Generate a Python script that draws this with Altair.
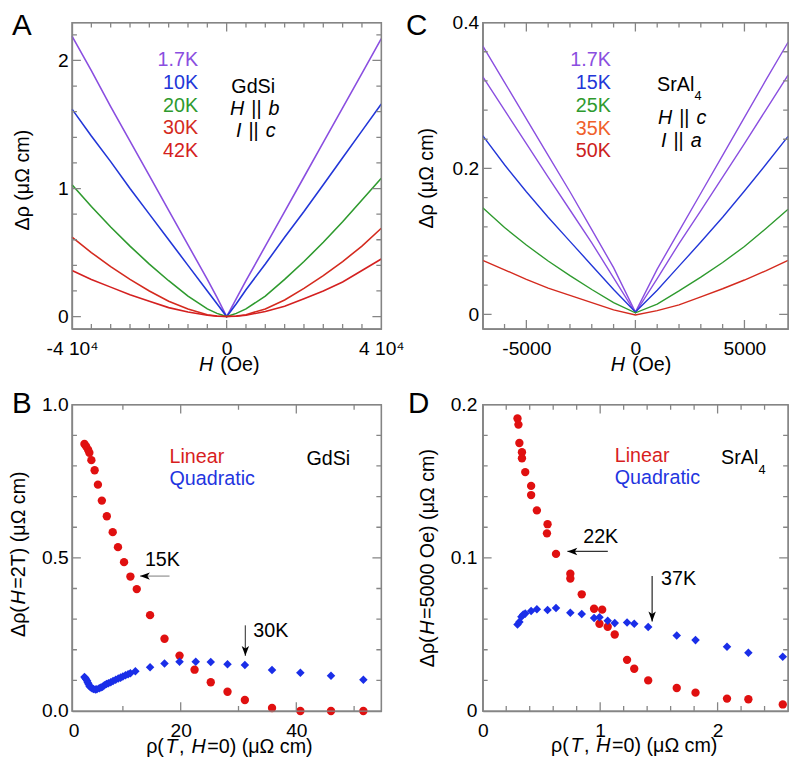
import altair as alt
import pandas as pd

FONT = "Liberation Sans"
FRAME = "#858585"
LAB = 19.5
TIT = 20

# ---------------- data ----------------
# Panel A : GdSi, H || b, I || c
A_H = [-40000, -35000, -30000, -25000, -20000, -15000, -10000, -5000, -2500, 0,
       2500, 5000, 10000, 15000, 20000, 25000, 30000, 35000, 40000]
A_T = ["1.7K", "10K", "20K", "30K", "42K"]
A_COL = ["#8a4ee0", "#2236d8", "#2e9a2e", "#d42a1e", "#d42020"]
A_1p7 = [2.19, 1.92, 1.64, 1.37, 1.10, 0.83, 0.56, 0.29, 0.15, 0.0, 0.14, 0.28, 0.55, 0.82, 1.09, 1.36, 1.63, 1.90, 2.17]
A_10 = [1.62, 1.41, 1.21, 1.00, 0.80, 0.60, 0.40, 0.20, 0.10, 0.0, 0.10, 0.21, 0.41, 0.62, 0.82, 1.03, 1.24, 1.45, 1.66]
A_20 = [1.03, 0.86, 0.70, 0.55, 0.41, 0.28, 0.16, 0.06, 0.025, 0.0, 0.025, 0.06, 0.16, 0.29, 0.43, 0.58, 0.74, 0.91, 1.08]
A_30 = [0.62, 0.50, 0.39, 0.29, 0.20, 0.12, 0.06, 0.015, 0.004, 0.0, 0.004, 0.015, 0.06, 0.13, 0.22, 0.32, 0.43, 0.55, 0.69]
A_42 = [0.36, 0.29, 0.23, 0.17, 0.12, 0.07, 0.035, 0.01, 0.003, 0.0, 0.003, 0.01, 0.04, 0.08, 0.14, 0.20, 0.27, 0.36, 0.45]

# Panel C : SrAl4, H || c, I || a
C_H = [-7000, -6000, -5000, -4000, -3000, -2000, -1000, 0, 1000, 2000, 3000, 4000, 5000, 6000, 7000]
C_T = ["1.7K", "15K", "25K", "35K", "50K"]
C_COL = ["#8a4ee0", "#2236d8", "#2e9a2e", "#f0602a", "#cc2020"]
C_1p7 = [0.368, 0.318, 0.268, 0.218, 0.168, 0.116, 0.064, 0.003, 0.062, 0.114, 0.166, 0.218, 0.270, 0.322, 0.373]
C_15 = [0.326, 0.280, 0.234, 0.188, 0.143, 0.098, 0.050, 0.002, 0.049, 0.097, 0.142, 0.188, 0.234, 0.281, 0.328]
C_25 = [0.245, 0.205, 0.168, 0.133, 0.100, 0.067, 0.034, 0.003, 0.033, 0.066, 0.099, 0.133, 0.169, 0.206, 0.244]
C_35 = [0.146, 0.119, 0.095, 0.073, 0.053, 0.034, 0.016, 0.002, 0.014, 0.032, 0.051, 0.071, 0.093, 0.118, 0.144]
C_50 = [0.074, 0.061, 0.048, 0.036, 0.026, 0.016, 0.006, -0.001, 0.005, 0.013, 0.024, 0.035, 0.047, 0.060, 0.074]

# Panel B : GdSi, linear / quadratic coefficients vs rho(T, H=0)
B_LIN_X = [3.35, 3.64, 3.98, 4.2, 4.55, 5.11, 5.68, 6.36, 7.22, 8.24, 9.15, 10.2, 11.3, 12.4,
           14.7, 17.2, 19.8, 22.4, 25.2, 28.1, 31.1, 35.8, 40.7, 46.0, 51.6]
B_LIN_Y = [0.872, 0.864, 0.853, 0.843, 0.819, 0.786, 0.739, 0.687, 0.636, 0.584, 0.535, 0.486, 0.439, 0.398,
           0.313, 0.236, 0.181, 0.135, 0.094, 0.063, 0.036, 0.010, 0.0, 0.0, 0.0]
B_QUAD_X = [3.35, 3.5, 3.64, 3.8, 3.92, 4.05, 4.2, 4.4, 4.66, 4.9, 5.23, 5.5, 5.91, 6.2, 6.48, 6.8, 7.16,
            7.5, 7.9, 8.3, 8.75, 9.2, 9.6, 10.0, 10.45, 10.9, 11.3, 12.16, 14.7, 17.2, 19.8, 22.6, 25.2,
            28.1, 31.1, 35.8, 40.7, 46.0, 51.6]
B_QUAD_Y = [0.111, 0.108, 0.104, 0.099, 0.093, 0.088, 0.082, 0.078, 0.074, 0.072, 0.070, 0.071, 0.074,
            0.077, 0.079, 0.084, 0.088, 0.091, 0.094, 0.098, 0.102, 0.106, 0.109, 0.113, 0.117, 0.120,
            0.123, 0.130, 0.143, 0.155, 0.161, 0.161, 0.160, 0.153, 0.150, 0.134, 0.125, 0.115, 0.102]

# Panel D : SrAl4
D_LIN_X = [0.296, 0.304, 0.312, 0.334, 0.334, 0.362, 0.412, 0.412, 0.461, 0.552, 0.547, 0.624, 0.746,
           0.746, 0.843, 0.948, 1.017, 0.994, 1.064, 1.124, 1.229, 1.290, 1.409, 1.652, 1.812, 2.080,
           2.262, 2.555]
D_LIN_Y = [0.191, 0.187, 0.175, 0.169, 0.165, 0.156, 0.147, 0.141, 0.131, 0.122, 0.116, 0.1026, 0.0897,
           0.0865, 0.0762, 0.0668, 0.0662, 0.057, 0.055, 0.050, 0.0334, 0.0276, 0.020, 0.015, 0.012,
           0.0081, 0.0077, 0.0043]
D_QUAD_X = [0.296, 0.312, 0.329, 0.345, 0.362, 0.412, 0.461, 0.552, 0.624, 0.746, 0.843, 0.948, 0.994,
            1.064, 1.124, 1.229, 1.290, 1.409, 1.652, 1.812, 2.080, 2.262, 2.555]
D_QUAD_Y = [0.0565, 0.0582, 0.0615, 0.063, 0.0636, 0.0653, 0.0664, 0.066, 0.0672, 0.0642, 0.0634, 0.0608,
            0.0612, 0.0589, 0.0574, 0.0578, 0.057, 0.0548, 0.0493, 0.0463, 0.042, 0.0381, 0.0355]

RED = "#e01010"
BLUE = "#1a2ee8"

# ---------------- helpers ----------------
ONE = pd.DataFrame({"k": [0]})

AW = {'H': 722, 'b': 556, 'c': 500, 'a': 556, 'I': 278, ' ': 278, '|': 260, '(': 333, ')': 333,
      'O': 778, 'e': 556, 'ρ': 578, 'T': 611, ',': 278, '=': 584, '0': 556, '2': 556, '5': 556,
      'μ': 576, 'Ω': 768, 'm': 833, 'Δ': 668}


def tw(s, size):
    return sum(AW.get(ch, 556) for ch in s) / 1000.0 * size


def txt(t, x, y, size=TIT, color="black", align="left", baseline="middle", style="normal", angle=0):
    return alt.Chart(ONE).mark_text(text=t, font=FONT, fontSize=size, color=color, align=align,
                                    baseline=baseline, fontStyle=style, angle=angle).encode(
        x=alt.value(x), y=alt.value(y))


def letter(t, x, y):
    return txt(t, x, y, 30, "black", "left", "alphabetic")


def hseq(pieces, x, y, size=TIT, color="black", gap=1.5):
    out = []
    for s, it in pieces:
        core = s.strip(" ")
        lead = len(s) - len(s.lstrip(" "))
        xx = x + tw(" " * lead, size)
        if core:
            out.append(txt(core, xx, y, size, color, "left", "middle", "italic" if it else "normal"))
        x += tw(s, size) + gap
    return out


def vseq(pieces, x, y, size=TIT, gap=1.5):
    out = []
    for s, it in pieces:
        core = s.strip(" ")
        lead = len(s) - len(s.lstrip(" "))
        yy = y - tw(" " * lead, size)
        if core:
            out.append(txt(core, x, yy, size, "black", "left", "middle", "italic" if it else "normal", 270))
        y -= tw(s, size) + gap
    return out


def frame_and_ticks(xd, yd, xmaj, xmin, ymaj, ymin, w, h):
    """Gray plot frame plus inward ticks on all four sides, drawn as one stroked symbol path
    (symbol size 4 -> path units are pixels, anchored at the plot's top-left corner)."""
    parts = [f"M0,0 L{w},0 L{w},{h} L0,{h} Z"]
    for vals, L in [(xmaj, 9), (xmin, 5)]:
        for v in vals:
            p = (v - xd[0]) / (xd[1] - xd[0]) * w
            parts.append(f"M{p:.2f},{h} L{p:.2f},{h - L} M{p:.2f},0 L{p:.2f},{L}")
    for vals, L in [(ymaj, 9), (ymin, 5)]:
        for v in vals:
            p = h - (v - yd[0]) / (yd[1] - yd[0]) * h
            parts.append(f"M0,{p:.2f} L{L},{p:.2f} M{w},{p:.2f} L{w - L},{p:.2f}")
    path = " ".join(parts)
    mark = alt.Chart(ONE).mark_point(shape=path, size=4, filled=False, color=FRAME, strokeWidth=1.3,
                                     opacity=1).encode(x=alt.value(0), y=alt.value(0))
    return [mark]


def xlab(vals, expr):
    return alt.Axis(orient="bottom", values=vals, labelExpr=expr, ticks=False, domain=True,
                    domainColor=FRAME, domainWidth=1.3, grid=False,
                    title=None, labelPadding=11, labelFlush=False, labelOverlap=False, labelFont=FONT,
                    labelFontSize=LAB, labelColor="black")


def ylab(vals, expr, pad=4):
    return alt.Axis(orient="left", values=vals, labelExpr=expr, ticks=False, domain=True,
                    domainColor=FRAME, domainWidth=1.3, grid=False,
                    title=None, labelPadding=pad, labelFlush=False, labelOverlap=False, labelFont=FONT,
                    labelFontSize=LAB, labelColor="black")


LEFT_ARROW = "M0,0 L2,-0.75 L1.5,0 L2,0.75 Z"
DOWN_ARROW = "M0,0 L-0.75,-2 L0,-1.5 L0.75,-2 Z"


def arrow(x1, y1, x2, y2, path, shaft="#333333"):
    rule = alt.Chart(ONE).mark_rule(color=shaft, strokeWidth=1.3).encode(
        x=alt.value(x1), x2=alt.value(x2), y=alt.value(y1), y2=alt.value(y2))
    head = alt.Chart(ONE).mark_point(shape=path, filled=True, size=100, color="black", opacity=1,
                                     strokeWidth=0).encode(x=alt.value(x2), y=alt.value(y2))
    return [rule, head]


def long_df(xs, series, names, xf, yf):
    rows = []
    for name, ys in zip(names, series):
        for xv, yv in zip(xs, ys):
            rows.append({xf: xv, yf: yv, "T": name})
    return pd.DataFrame(rows)


def panel(layers, w, h):
    return alt.layer(*layers).properties(width=w, height=h)


# ---------------- Panel A ----------------
WA, HA = 314, 311
A_XD, A_YD = [-40000, 40000], [-0.096, 2.296]
dfA = long_df(A_H, [A_1p7, A_10, A_20, A_30, A_42], A_T, "H", "drho")
linesA = alt.Chart(dfA).mark_line(strokeWidth=1.6).encode(
    x=alt.X("H:Q", scale=alt.Scale(domain=A_XD, nice=False, zero=False),
            axis=xlab([-40000, 0, 40000], "datum.value == 0 ? '0' : (datum.value < 0 ? '-4 10⁴' : '4 10⁴')")),
    y=alt.Y("drho:Q", scale=alt.Scale(domain=A_YD, nice=False, zero=False),
            axis=ylab([0, 1, 2], "'' + datum.value")),
    color=alt.Color("T:N", scale=alt.Scale(domain=A_T, range=A_COL), legend=None),
)
ticksA = frame_and_ticks(A_XD, A_YD, [-40000, 0, 40000],
                         [-35000, -30000, -25000, -20000, -15000, -10000, -5000, 5000, 10000, 15000, 20000, 25000, 30000, 35000],
                         [0, 1, 2], [0.2, 0.4, 0.6, 0.8, 1.2, 1.4, 1.6, 1.8, 2.2], WA, HA)
textA = [letter("A", -61, 13)]
for lbl, col, yy in zip(A_T, A_COL, [38, 61, 85, 107, 131]):
    textA.append(txt(lbl, 128, yy, TIT, col, "right"))
textA.append(txt("GdSi", 184, 66, TIT, "black", "center"))
textA += hseq([("H", True), (" || ", False), ("b", True)], 160.5, 88)
textA += hseq([("I", True), (" || ", False), ("c", True)], 166.5, 110)
textA.append(txt("Δρ (μΩ cm)", -50, 160, TIT, "black", "center", "middle", "normal", 270))
textA += hseq([("H", True), (" (Oe)", False)], 129, 348)
panelA = panel([linesA, *textA, *ticksA], WA, HA)

# ---------------- Panel C ----------------
WC, HC = 310, 311
C_XD, C_YD = [-7000, 7000], [-0.02, 0.4]
dfC = long_df(C_H, [C_1p7, C_15, C_25, C_35, C_50], C_T, "H", "drho")
linesC = alt.Chart(dfC).mark_line(strokeWidth=1.4).encode(
    x=alt.X("H:Q", scale=alt.Scale(domain=C_XD, nice=False, zero=False),
            axis=xlab([-5000, 0, 5000], "'' + datum.value")),
    y=alt.Y("drho:Q", scale=alt.Scale(domain=C_YD, nice=False, zero=False),
            axis=ylab([0, 0.2, 0.4], "datum.value == 0 ? '0' : format(datum.value, '.1f')")),
    color=alt.Color("T:N", scale=alt.Scale(domain=C_T, range=C_COL), legend=None),
)
ticksC = frame_and_ticks(C_XD, C_YD, [-5000, 0, 5000],
                         [-6000, -4000, -3000, -2000, -1000, 1000, 2000, 3000, 4000, 6000],
                         [0, 0.2, 0.4], [0.04, 0.08, 0.12, 0.16, 0.24, 0.28, 0.32, 0.36], WC, HC)
textC = [letter("C", -78, 13)]
for lbl, col, yy in zip(C_T, C_COL, [38, 61, 85, 108, 131]):
    textC.append(txt(lbl, 130, yy, TIT, col, "right"))
textC.append(txt("SrAl", 177, 63, TIT))
textC.append(txt("4", 215, 75, 13))
textC += hseq([("H", True), (" || ", False), ("c", True)], 178, 97)
textC += hseq([("I", True), (" || ", False), ("a", True)], 181, 120)
textC.append(txt("Δρ (μΩ cm)", -56, 158, TIT, "black", "center", "middle", "normal", 270))
textC += hseq([("H", True), (" (Oe)", False)], 130, 348)
panelC = panel([linesC, *textC, *ticksC], WC, HC)

# ---------------- Panel B ----------------
WB, HB = 314, 311
B_XD, B_YD = [1.2, 54.7], [0.0, 1.0]
dfBl = pd.DataFrame({"rho": B_LIN_X, "drho": B_LIN_Y})
dfBq = pd.DataFrame({"rho": B_QUAD_X, "drho": B_QUAD_Y})
linB = alt.Chart(dfBl).mark_circle(size=72, color=RED, opacity=1).encode(
    x=alt.X("rho:Q", scale=alt.Scale(domain=B_XD, nice=False, zero=False),
            axis=xlab([20, 40], "'' + datum.value")),
    y=alt.Y("drho:Q", scale=alt.Scale(domain=B_YD, nice=False, zero=False),
            axis=ylab([0, 0.5, 1.0], "format(datum.value, '.1f')")))
quadB = alt.Chart(dfBq).mark_point(shape="diamond", filled=True, size=75, color=BLUE, opacity=1).encode(
    x=alt.X("rho:Q", scale=alt.Scale(domain=B_XD, nice=False, zero=False)),
    y=alt.Y("drho:Q", scale=alt.Scale(domain=B_YD, nice=False, zero=False)))
ticksB = frame_and_ticks(B_XD, B_YD, [20, 40], [10, 30, 50],
                         [0, 0.5, 1.0], [0.1, 0.2, 0.3, 0.4, 0.6, 0.7, 0.8, 0.9], WB, HB)
textB = [letter("B", -61, 8), txt("0", 2, 322, LAB, "black", "center", "top")]
textB.append(txt("Linear", 99, 53, TIT, "#d81e1e"))
textB.append(txt("Quadratic", 99, 76, TIT, "#1f35e0"))
textB.append(txt("GdSi", 238, 55, TIT))
textB.append(txt("15K", 74, 158, TIT))
textB += arrow(99, 174, 69, 174, LEFT_ARROW, "#999999")
textB.append(txt("30K", 184, 230, TIT))
textB += arrow(176, 224, 176, 255, DOWN_ARROW, "#555555")
wB = tw("Δρ(H=2T) (μΩ cm)", TIT)
textB += vseq([("Δρ(", False), ("H", True), ("=2T) (μΩ cm)", False)], -54, 153 + wB / 2)
wBx = tw("ρ(T, H=0) (μΩ cm)", TIT)
textB += hseq([("ρ(", False), ("T", True), (", ", False), ("H", True), ("=0) (μΩ cm)", False)],
              157 - wBx / 2, 348)
panelB = panel([linB, quadB, *textB, *ticksB], WB, HB)

# ---------------- Panel D ----------------
WD, HD = 310, 311
D_XD, D_YD = [0.0, 2.6], [0.0, 0.2]
dfDl = pd.DataFrame({"rho": D_LIN_X, "drho": D_LIN_Y})
dfDq = pd.DataFrame({"rho": D_QUAD_X, "drho": D_QUAD_Y})
linD = alt.Chart(dfDl).mark_circle(size=72, color=RED, opacity=1, clip=True).encode(
    x=alt.X("rho:Q", scale=alt.Scale(domain=D_XD, nice=False, zero=False),
            axis=xlab([0, 1, 2], "'' + datum.value")),
    y=alt.Y("drho:Q", scale=alt.Scale(domain=D_YD, nice=False, zero=False),
            axis=ylab([0, 0.1, 0.2], "datum.value == 0 ? '0' : format(datum.value, '.1f')", 6)))
quadD = alt.Chart(dfDq).mark_point(shape="diamond", filled=True, size=75, color=BLUE, opacity=1, clip=True).encode(
    x=alt.X("rho:Q", scale=alt.Scale(domain=D_XD, nice=False, zero=False)),
    y=alt.Y("drho:Q", scale=alt.Scale(domain=D_YD, nice=False, zero=False)))
ticksD = frame_and_ticks(D_XD, D_YD, [0, 1, 2],
                         [0.2, 0.4, 0.6, 0.8, 1.2, 1.4, 1.6, 1.8, 2.2, 2.4],
                         [0, 0.1, 0.2], [0.02, 0.04, 0.06, 0.08, 0.12, 0.14, 0.16, 0.18], WD, HD)
textD = [letter("D", -76, 8)]
textD.append(txt("Linear", 134, 52, TIT, "#d81e1e"))
textD.append(txt("Quadratic", 134, 75, TIT, "#1f35e0"))
textD.append(txt("SrAl", 242, 54, TIT))
textD.append(txt("4", 280, 66, 13))
textD.append(txt("22K", 102, 134, TIT))
textD += arrow(127, 149, 86, 149, LEFT_ARROW, "#333333")
textD.append(txt("37K", 181, 177, TIT))
textD += arrow(172, 174, 172, 220, DOWN_ARROW, "#333333")
wD = tw("Δρ(H=5000 Oe) (μΩ cm)", TIT)
textD += vseq([("Δρ(", False), ("H", True), ("=5000 Oe) (μΩ cm)", False)], -55, 157 + wD / 2)
textD += hseq([("ρ(", False), ("T", True), (", ", False), ("H", True), ("=0) (μΩ cm)", False)],
              151 - wBx / 2, 347)
panelD = panel([linD, quadD, *textD, *ticksD], WD, HD)

chart = alt.concat(panelA, panelC, panelB, panelD, columns=2,
                   spacing={"row": 77, "column": 103}, bounds="flush").configure_view(
    stroke=FRAME, strokeWidth=1.3).properties(
    padding={"left": 0, "top": -3, "right": 0, "bottom": 0})

chart.save("out.html", embed_options={"renderer": "svg", "actions": False})
